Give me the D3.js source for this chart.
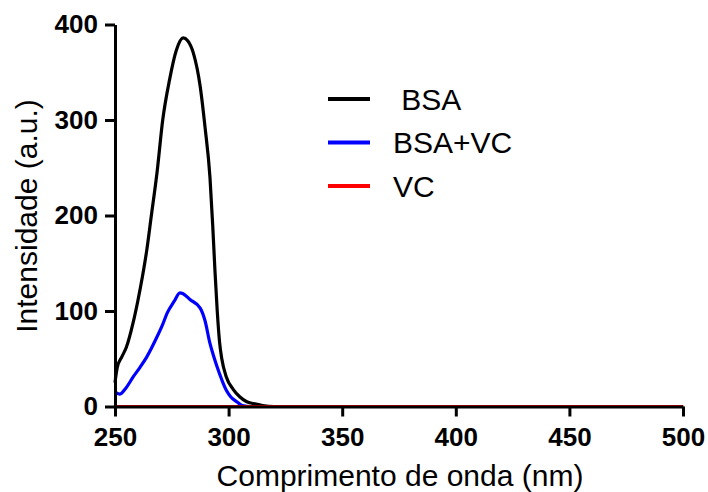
<!DOCTYPE html>
<html>
<head>
<meta charset="utf-8">
<script src="https://cdn.jsdelivr.net/npm/d3@7"></script>
<style>
  body { margin: 0; background: #fff; }
  text { font-family: "Liberation Sans", Arial, sans-serif; }
</style>
</head>
<body>
<div id="plot"></div>
<script>
// series data (wavelength nm, intensity a.u.)
const bsaWl  = [250, 251, 253, 255, 258, 260, 262, 264, 266, 268.5, 271, 274, 277, 280, 282, 284.5, 287.5, 289.6, 291.8, 293, 294, 295, 296, 297, 299, 302, 305, 308, 311, 315, 320, 500];
const bsaVal = [25, 41, 52, 62, 88, 110, 135, 164, 200, 245, 300, 342, 373, 386, 383, 370, 335, 293, 240, 190, 142, 100, 68, 50, 31, 18, 10, 5, 3, 1, 0, 0];

const mixWl  = [250, 252, 255, 258, 261, 264, 268.5, 271, 273, 276, 278.6, 280, 283, 287.5, 289.6, 291.8, 293.5, 295, 297, 299, 301, 303.6, 306, 310, 500];
const mixVal = [15, 13, 20, 31, 41, 52, 73, 86, 98, 110, 119, 118, 112, 103, 90, 66, 52, 41, 28, 17, 10, 5, 1, 0, 0];

const vcWl  = [250, 300, 350, 400, 450, 500];
const vcVal = [0, 0, 0, 0, 0, 0];

const seriesNames  = [" BSA", "BSA+VC", "VC"];
const seriesColors = ["#000000", "#0000ff", "#ff0000"];

const xTicks = [250, 300, 350, 400, 450, 500];
const yTicks = [0, 100, 200, 300, 400];

const width = 708, height = 492;

const x = d3.scaleLinear().domain([250, 500]).range([115, 683]);
const y = d3.scaleLinear().domain([0, 400]).range([406.5, 24.5]);

const svg = d3.select("#plot")
  .append("svg")
    .attr("width", width)
    .attr("height", height);

const series = [
  bsaWl.map((w, i) => ({ wl: w, v: bsaVal[i] })),
  mixWl.map((w, i) => ({ wl: w, v: mixVal[i] })),
  vcWl.map((w, i) => ({ wl: w, v: vcVal[i] }))
];

const line = d3.line()
    .x(d => x(d.wl))
    .y(d => y(d.v))
    .curve(d3.curveMonotoneX);

series.forEach((s, i) => {
  svg.append("path")
    .datum(s)
    .attr("fill", "none")
    .attr("stroke", seriesColors[i])
    .attr("stroke-width", 3.2)
    .attr("d", line);
});

// axes
const xAxis = svg.append("g")
  .attr("transform", `translate(0,${y(0)})`)
  .call(d3.axisBottom(x).tickValues(xTicks).tickSize(10).tickSizeOuter(0).tickPadding(11));

const yAxis = svg.append("g")
  .attr("transform", `translate(${x(250)},0)`)
  .call(d3.axisLeft(y).tickValues(yTicks).tickSize(10).tickSizeOuter(0).tickPadding(7));

[xAxis, yAxis].forEach(g => {
  g.selectAll("path, line").attr("stroke", "#000").attr("stroke-width", 3);
  g.selectAll("text")
    .attr("fill", "#000")
    .style("font-family", "'Liberation Sans', Arial, sans-serif")
    .style("font-size", "26px")
    .style("font-weight", "bold");
});

// axis titles
svg.append("text")
  .attr("x", 400)
  .attr("y", 486)
  .attr("text-anchor", "middle")
  .style("font-size", "30px")
  .text("Comprimento de onda (nm)");

svg.append("text")
  .attr("transform", "translate(37,216) rotate(-90)")
  .attr("text-anchor", "middle")
  .style("font-size", "30px")
  .text("Intensidade (a.u.)");

// legend
const legend = svg.append("g");
seriesNames.forEach((name, i) => {
  const ly = 99 + i * 43.5;
  legend.append("line")
    .attr("x1", 328).attr("x2", 370)
    .attr("y1", ly).attr("y2", ly)
    .attr("stroke", seriesColors[i])
    .attr("stroke-width", 4);
  legend.append("text")
    .attr("x", 393)
    .attr("y", ly + 10.5)
    .style("font-size", "30px")
    .style("white-space", "pre")
    .text(name);
});
</script>
</body>
</html>
